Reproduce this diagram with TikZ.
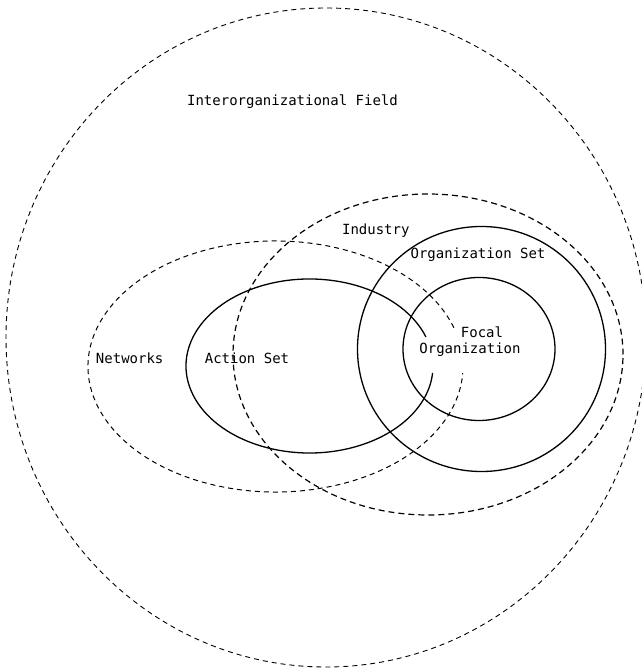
\documentclass[tikz,border=0pt]{standalone}
\usepackage{fontspec}
\newfontfamily\typefont{DejaVu Sans Mono}
\begin{document}
\begin{tikzpicture}[x=1pt,y=1pt,
  outerline/.style={line width=0.9pt,dash pattern=on 5pt off 4pt},
  dashline/.style={line width=1.2pt,dash pattern=on 6pt off 4pt},
  netline/.style={line width=1.0pt,dash pattern=on 5pt off 4pt},
  solidline/.style={line width=1.3pt},
  lbl/.style={font=\typefont\fontsize{14}{16}\selectfont,inner sep=0pt,anchor=base}]
\useasboundingbox (0,0) rectangle (641,670);
% Interorganizational field
\draw[outerline] (326,332.5) ellipse [x radius=320pt, y radius=329.5pt];
% Industry
\draw[dashline] (428,315.5) ellipse [x radius=195pt, y radius=160.5pt];
% Networks (open on the right)
\draw[netline] (275.5,303.5) ++(18:187.5pt and 125.5pt)
  arc[start angle=18, end angle=357, x radius=187.5pt, y radius=125.5pt];
% Action set (open on the right)
\draw[solidline] (309.5,304) ++(19.5:123.5pt and 87pt)
  arc[start angle=19.5, end angle=355.4, x radius=123.5pt, y radius=87pt];
% Organization set
\draw[solidline] (481.5,321) ellipse [x radius=124pt, y radius=122.5pt];
% Focal organization
\draw[solidline] (479,321) ellipse [x radius=76pt, y radius=71.5pt];
% Labels
\node[lbl] (field) at (292.5,564) {Interorganizational Field};
\node[lbl] (industry) at (375.8,435) {Industry};
\node[lbl] (orgset) at (478,411) {Organization Set};
\node[lbl] (networks) at (129.7,306) {Networks};
\node[lbl] (actionset) at (247,306) {Action Set};
\node[lbl] (focal1) at (482,332.7) {Focal};
\node[lbl] (focal2) at (470,316.7) {Organization};
\end{tikzpicture}
\end{document}
